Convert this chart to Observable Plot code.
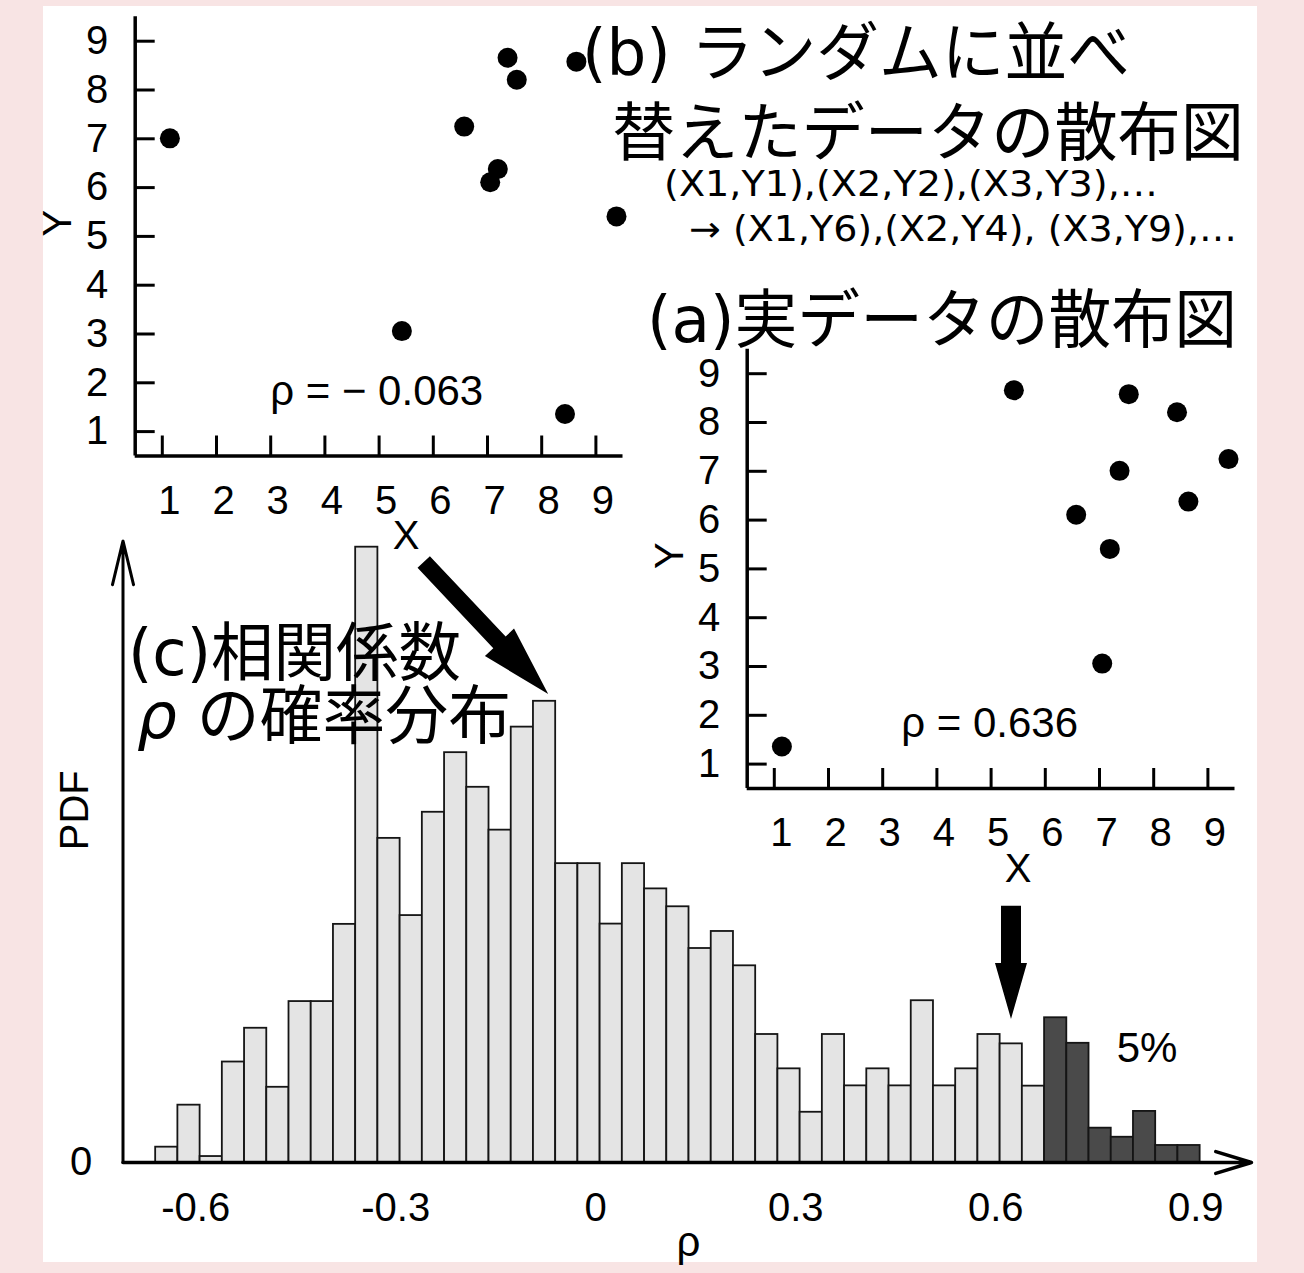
<!DOCTYPE html>
<html><head><meta charset="utf-8">
<script src="https://cdn.jsdelivr.net/npm/d3@7"></script>
<script src="https://cdn.jsdelivr.net/npm/@observablehq/plot@0.6"></script>
<style>
html,body{margin:0;padding:0;background:#f8e4e4;}
#stage{position:relative;width:1304px;height:1273px;overflow:hidden;background:#f8e4e4;}
#panel{position:absolute;left:43px;top:6px;width:1214px;height:1256px;background:#fff;}
#stage svg{position:absolute;left:0;top:0;}
</style></head><body><div id="stage"><div id="panel"></div></div>
<script>
// ---------- data ----------
// (c) histogram of the correlation coefficient rho (PDF per bin)
const binStart = -0.66;
const binWidth = 1 / 30;
const pdfValues = [0.054,0.202,0.021,0.354,0.473,0.265,0.567,0.567,0.839,2.168,
  1.142,0.870,1.234,1.444,1.322,1.171,1.534,1.625,1.053,1.053,
  0.840,1.053,0.964,0.901,0.754,0.814,0.693,0.451,0.330,0.177,
  0.451,0.270,0.330,0.270,0.570,0.270,0.330,0.451,0.418,0.269,
  0.510,0.420,0.121,0.089,0.180,0.060,0.060];
const tailFrom = 0.67;            // upper 5% tail (dark bars)
const xTicks = [-0.6, -0.3, 0, 0.3, 0.6, 0.9];
const xTickLabels = ["-0.6", "-0.3", "0", "0.3", "0.6", "0.9"];

// (a)/(b) scatter plots
const scatterTicks = [1, 2, 3, 4, 5, 6, 7, 8, 9];
const pointX    = [1.14, 5.42, 6.57, 7.05, 7.19, 7.37, 7.54, 8.43, 8.64, 9.38];
const realY     = [1.36, 8.66, 6.11, 3.06, 5.41, 7.01, 8.58, 8.21, 6.38, 7.25];
const shuffledY = [7.01, 3.06, 7.25, 6.11, 6.38, 8.66, 8.21, 1.36, 8.58, 5.41];
const rhoReal = "ρ = 0.636";
const rhoShuffled = "ρ = − 0.063";

// ---------- layout ----------
const W = 1304, H = 1273;
const FONT = "'Liberation Sans', Arial, Helvetica, sans-serif";
const stage = document.getElementById("stage");

const bars = pdfValues.map((v, i) => ({
  x1: binStart + i * binWidth, x2: binStart + (i + 1) * binWidth, pdf: v,
  tail: binStart + i * binWidth >= tailFrom
}));
const xDom = [-0.709, 0.96];

const hist = Plot.plot({
  width: W, height: H,
  marginLeft: 122.5, marginRight: 68.8, marginTop: 537.6, marginBottom: 111,
  x: {domain: xDom, axis: null},
  y: {domain: [0, 2.2], axis: null},
  style: {background: "none", fontFamily: FONT, overflow: "visible", color: "#000"},
  marks: [
    Plot.rect(bars.filter(d => !d.tail), {x1: "x1", x2: "x2", y1: 0, y2: "pdf", fill: "#e4e4e4", stroke: "#151515", strokeWidth: 1.8, inset: 0}),
    Plot.rect(bars.filter(d => d.tail), {x1: "x1", x2: "x2", y1: 0, y2: "pdf", fill: "#4a4a4a", stroke: "#151515", strokeWidth: 1.8, inset: 0}),
    Plot.arrow([0], {x1: xDom[0], y1: 0, x2: 0.9837, y2: 0, stroke: "#000", strokeWidth: 3.5, headLength: 16, headAngle: 34}),
    Plot.arrow([0], {x1: xDom[0], y1: 0, x2: xDom[0], y2: 2.19, stroke: "#000", strokeWidth: 3, headLength: 22.5, headAngle: 27}),
    Plot.text(xTicks, {x: d => d, y: 0, text: (d, i) => xTickLabels[i], dy: 46, lineAnchor: "middle", fontSize: 40, fill: "#000"}),
    Plot.text(["0"], {x: xDom[0], y: 0, dx: -42, textAnchor: "middle", lineAnchor: "middle", fontSize: 40, fill: "#000"}),
    Plot.text(["PDF"], {frameAnchor: "left", dx: -47.5, rotate: -90, lineAnchor: "middle", fontSize: 40, fill: "#000"}),
    Plot.text(["ρ"], {x: 0.139, y: 0, dy: 93, lineAnchor: "bottom", fontSize: 42, fill: "#000"}),
    Plot.text(["5%"], {x: 0.827, y: 0.353, lineAnchor: "bottom", fontSize: 42, fill: "#000"})
  ]
});
stage.appendChild(hist);

function scatter(ys, rhoLabel, m, rhoPos) {
  const pts = pointX.map((x, i) => ({x, y: ys[i]}));
  return Plot.plot({
    width: W, height: H,
    marginLeft: m[0], marginTop: m[1], marginRight: m[2], marginBottom: m[3],
    x: {domain: [0.5, 9.5], axis: null},
    y: {domain: [0.5, 9.5], axis: null},
    style: {background: "none", fontFamily: FONT, overflow: "visible", color: "#000"},
    marks: [
      Plot.ruleX([0.5], {stroke: "#000", strokeWidth: 3.5}),
      Plot.ruleY([0.5], {stroke: "#000", strokeWidth: 3.5}),
      Plot.ruleX(scatterTicks, {x: d => d, y1: 0.5, y2: 0.5 + 20 / 48.8, stroke: "#000", strokeWidth: 3}),
      Plot.ruleY(scatterTicks, {y: d => d, x1: 0.5, x2: 0.5 + 20 / 54.2, stroke: "#000", strokeWidth: 3}),
      Plot.text(scatterTicks, {x: d => d, y: 0.5, dx: 7, dy: 45, lineAnchor: "middle", fontSize: 40, fill: "#000"}),
      Plot.text(scatterTicks, {x: 0.5, y: d => d, dx: -38, textAnchor: "middle", lineAnchor: "middle", fontSize: 40, fill: "#000"}),
      Plot.text(["X"], {frameAnchor: "bottom", dx: 27, dy: 93, lineAnchor: "bottom", fontSize: 40, fill: "#000"}),
      Plot.text(["Y"], {frameAnchor: "left", dx: -77, rotate: -90, lineAnchor: "middle", fontSize: 40, fill: "#000"}),
      Plot.text([rhoLabel], {x: rhoPos[0], y: rhoPos[1], textAnchor: "start", lineAnchor: "bottom", fontSize: 42, fill: "#000"}),
      Plot.dot(pts, {x: "x", y: "y", r: 10, fill: "#000"})
    ]
  });
}
stage.appendChild(scatter(shuffledY, rhoShuffled, [134.7, 16.3, 681.5, 817.5], [2.99, 1.535]));
stage.appendChild(scatter(realY, rhoReal, [746.7, 348.8, 69.5, 485], [3.34, 1.557]));

// ---------- annotations ----------
const sx = hist.scale("x"), sy = hist.scale("y");
const pointerArrows = [
  {from: [-0.2572, 2.114], to: [-0.0705, 1.649], shaft: 17, headWidth: 40, headLength: 71},
  {from: [0.6237, 0.903], to: [0.6237, 0.504], shaft: 20, headWidth: 32, headLength: 56}
];
const titles = [
  {t: "(b) ランダムに並べ", x: 582, y: 75, size: 64, len: 548},
  {t: "替えたデータの散布図", x: 612, y: 155, size: 64, len: 632},
  {t: "(X1,Y1),(X2,Y2),(X3,Y3),…", x: 664, y: 195.5, size: 35, len: 494},
  {t: "→ (X1,Y6),(X2,Y4), (X3,Y9),…", x: 689, y: 240.5, size: 35, len: 548},
  {t: "(a)実データの散布図", x: 647, y: 342, size: 64, len: 590},
  {t: "(c)相関係数", x: 128, y: 675, size: 64, len: 333}
];
const ov = d3.create("svg").attr("width", W).attr("height", H)
  .style("position", "absolute").style("left", 0).style("top", 0);
for (const a of pointerArrows) {
  const T = [sx.apply(a.from[0]), sy.apply(a.from[1])];
  const P = [sx.apply(a.to[0]), sy.apply(a.to[1])];
  const dx = P[0] - T[0], dy = P[1] - T[1], L = Math.hypot(dx, dy);
  const u = [dx / L, dy / L], n = [-u[1], u[0]];
  const B = [P[0] - u[0] * a.headLength, P[1] - u[1] * a.headLength];
  const s = a.shaft / 2, w = a.headWidth / 2;
  const pts = [
    [T[0] + n[0] * s, T[1] + n[1] * s], [B[0] + n[0] * s, B[1] + n[1] * s],
    [B[0] + n[0] * w, B[1] + n[1] * w], P,
    [B[0] - n[0] * w, B[1] - n[1] * w], [B[0] - n[0] * s, B[1] - n[1] * s],
    [T[0] - n[0] * s, T[1] - n[1] * s]
  ];
  ov.append("path").attr("d", "M" + pts.map(p => p.join(",")).join("L") + "Z").attr("fill", "#000");
}
const TFONT = "'DejaVu Sans','Noto Sans CJK JP',sans-serif";
for (const d of titles) {
  ov.append("text").attr("x", d.x).attr("y", d.y).attr("font-size", d.size)
    .attr("font-family", TFONT).attr("fill", "#000")
    .attr("textLength", d.len).attr("lengthAdjust", "spacingAndGlyphs").text(d.t);
}
const rhoLine = ov.append("text").attr("x", 137).attr("y", 738).attr("font-size", 64)
  .attr("font-family", TFONT).attr("fill", "#000")
  .attr("textLength", 374).attr("lengthAdjust", "spacingAndGlyphs");
rhoLine.append("tspan").attr("font-style", "italic").text("ρ");
rhoLine.append("tspan").text(" の確率分布");
stage.appendChild(ov.node());
</script></body></html>
